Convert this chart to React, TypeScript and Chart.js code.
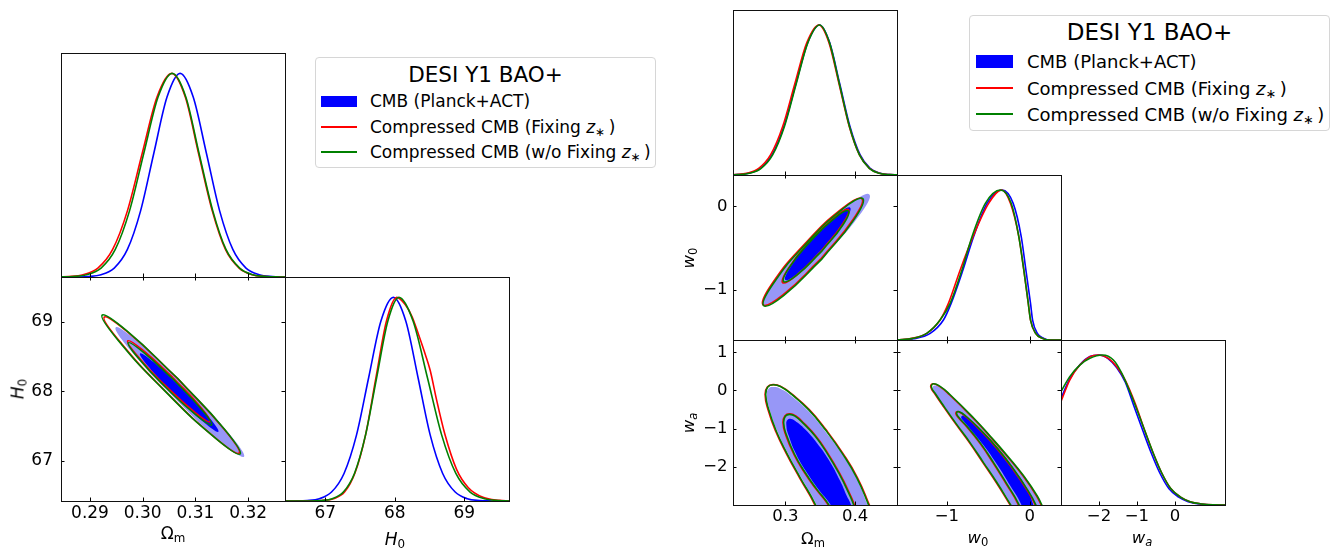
import React, { useEffect, useRef } from 'react';
import { Chart, registerables } from 'chart.js';

Chart.register(...registerables);

const FONT = 'DejaVu Sans';
const RED = '#ff0000';
const GREEN = '#008000';
const BLUE = '#0000ff';
const LIGHT = '#9797f7';

// ---------- axis ranges / ticks ----------
const omL_range = [0.2845, 0.327];
const h0_range = [66.42, 69.645];
const dens_range = [0, 1.1];
const omL_ticks = [0.29, 0.3, 0.31, 0.32];
const omL_tickLabels = ['0.29', '0.30', '0.31', '0.32'];
const h0_ticks = [67, 68, 69];
const h0_tickLabels = ['67', '68', '69'];

const omR_range = [0.225, 0.46];
const w0_range = [-1.6, 0.375];
const wa_range = [-3.0, 1.32];
const omR_ticks = [0.3, 0.4];
const omR_tickLabels = ['0.3', '0.4'];
const w0_ticks = [-1, 0];
const w0_tickLabels = ['\u22121', '0'];
const waY_ticks = [-2, -1, 0, 1];
const waY_tickLabels = ['\u22122', '\u22121', '0', '1'];
const waX_ticks = [-2, -1, 0];
const waX_tickLabels = ['\u22122', '\u22121', '0'];

// ---------- left triangle: 1D Omega_m ----------
const omL_blue_x = [0.2845, 0.2871, 0.2896, 0.2921, 0.2946, 0.2971, 0.2996, 0.3021, 0.3046, 0.3071, 0.3096, 0.3121, 0.3146, 0.3171, 0.3196, 0.3221, 0.3246, 0.327];
const omL_blue_y = [0.0001, 0.0003, 0.0022, 0.0111, 0.0439, 0.1353, 0.3247, 0.6065, 0.8825, 1.0, 0.8825, 0.6065, 0.3247, 0.1353, 0.0439, 0.0111, 0.0022, 0.0003];
const omL_red_x = [0.2845, 0.2859, 0.2887, 0.2915, 0.2943, 0.2971, 0.2999, 0.3027, 0.3055, 0.3081, 0.3106, 0.3132, 0.3157, 0.3183, 0.3208, 0.3234, 0.3259, 0.327];
const omL_red_y = [0.0009, 0.0022, 0.0111, 0.0439, 0.1353, 0.3247, 0.6065, 0.8825, 1.0, 0.8825, 0.6065, 0.3247, 0.1353, 0.0439, 0.0111, 0.0022, 0.0003, 0.0001];
const omL_green_x = [0.2845, 0.2867, 0.2894, 0.2921, 0.2948, 0.2975, 0.3002, 0.3029, 0.3056, 0.3082, 0.3107, 0.3133, 0.3158, 0.3184, 0.3209, 0.3235, 0.326, 0.327];
const omL_green_y = [0.0005, 0.0022, 0.0111, 0.0439, 0.1353, 0.3247, 0.6065, 0.8825, 1.0, 0.8825, 0.6065, 0.3247, 0.1353, 0.0439, 0.0111, 0.0022, 0.0003, 0.0001];

// ---------- left triangle: 1D H0 ----------
const h0_blue_x = [66.42, 66.56, 66.74, 66.915, 67.09, 67.27, 67.45, 67.625, 67.8, 67.98, 68.16, 68.335, 68.51, 68.69, 68.87, 69.045, 69.22, 69.4, 69.58, 69.645];
const h0_blue_y = [0.0001, 0.0003, 0.0022, 0.0111, 0.0439, 0.1353, 0.3247, 0.6065, 0.8825, 1.0, 0.8825, 0.6065, 0.3247, 0.1353, 0.0439, 0.0111, 0.0022, 0.0003, 0, 0];
const h0_red_x = [66.42, 66.83, 66.98, 67.13, 67.28, 67.43, 67.58, 67.73, 67.88, 68.03, 68.15, 68.25, 68.34, 68.42, 68.51, 68.6, 68.72, 68.89, 69.06, 69.27, 69.51, 69.645];
const h0_red_y = [0, 0.0003, 0.003, 0.012, 0.045, 0.14, 0.325, 0.6065, 0.8825, 1.0, 0.965, 0.905, 0.82, 0.74, 0.642, 0.5, 0.33, 0.155, 0.065, 0.018, 0.003, 0];
const h0_green_x = [66.42, 66.78, 66.94, 67.1, 67.26, 67.42, 67.58, 67.74, 67.9, 68.06, 68.265, 68.47, 68.675, 68.88, 69.085, 69.29, 69.495, 69.645];
const h0_green_y = [0, 0.0003, 0.0022, 0.0111, 0.0439, 0.1353, 0.3247, 0.6065, 0.8825, 1.0, 0.8825, 0.6065, 0.3247, 0.1353, 0.0439, 0.0111, 0.0022, 0.0003];

// ---------- left triangle: 2D Omega_m - H0 contours ----------
const cL_blue_outer = [[0.30814, 68.07], [0.29921, 68.704], [0.29488, 68.919], [0.29769, 68.589], [0.30598, 67.907], [0.31491, 67.273], [0.31923, 67.058], [0.31643, 67.388]];
const cL_blue_inner = [[0.3076, 68.032], [0.30214, 68.416], [0.29949, 68.545], [0.3012, 68.344], [0.30626, 67.93], [0.31172, 67.546], [0.31436, 67.417], [0.31266, 67.618]];
const cL_red_outer = [[0.30668, 68.178], [0.29728, 68.844], [0.2927, 69.068], [0.29562, 68.719], [0.30432, 68.0], [0.31372, 67.334], [0.3183, 67.11], [0.31538, 67.459]];
const cL_red_inner = [[0.30571, 68.199], [0.29997, 68.595], [0.29716, 68.726], [0.29893, 68.516], [0.30423, 68.088], [0.30997, 67.692], [0.31278, 67.561], [0.31101, 67.771]];
const cL_green_outer = [[0.30661, 68.187], [0.297, 68.868], [0.2923, 69.096], [0.29528, 68.739], [0.30419, 68.005], [0.3138, 67.325], [0.3185, 67.096], [0.31552, 67.454]];
const cL_green_inner = [[0.30593, 68.162], [0.30011, 68.564], [0.29727, 68.698], [0.29907, 68.485], [0.30445, 68.05], [0.31027, 67.648], [0.3131, 67.514], [0.31131, 67.727]];

// ---------- right triangle: 1D curves ----------
const omR_blue_x = [0.225, 0.23, 0.247, 0.264, 0.281, 0.298, 0.315, 0.332, 0.349, 0.3635, 0.378, 0.3925, 0.407, 0.4215, 0.436, 0.4505, 0.46];
const omR_red_x = [0.225, 0.2273, 0.2445, 0.2618, 0.279, 0.2963, 0.3135, 0.3308, 0.348, 0.3625, 0.377, 0.3915, 0.406, 0.4205, 0.435, 0.4495, 0.46];
const omR_green_x = [0.225, 0.2318, 0.2485, 0.2653, 0.282, 0.2988, 0.3155, 0.3323, 0.349, 0.3633, 0.3775, 0.3918, 0.406, 0.4203, 0.4345, 0.4488, 0.46];
const omR_y = [0.001, 0.0022, 0.0111, 0.0439, 0.1353, 0.3247, 0.6065, 0.8825, 1.0, 0.8825, 0.6065, 0.3247, 0.1353, 0.0439, 0.0111, 0.0022, 0.0005];

const w0_blue_x = [-1.6, -1.4, -1.2, -1.041, -0.948, -0.806, -0.678, -0.516, -0.334, -0.201, -0.104, -0.048, 0.008, 0.033, 0.09, 0.169, 0.25, 0.375];
const w0_blue_y = [0, 0.008, 0.044, 0.133, 0.244, 0.467, 0.689, 0.911, 1.0, 0.911, 0.689, 0.467, 0.244, 0.133, 0.044, 0.011, 0, 0];
const w0_red_x = [-1.6, -1.42, -1.242, -1.081, -0.981, -0.839, -0.685, -0.496, -0.34, -0.234, -0.133, -0.073, -0.019, 0.008, 0.069, 0.15, 0.25, 0.375];
const w0_green_x = [-1.6, -1.41, -1.242, -1.081, -0.96, -0.818, -0.697, -0.536, -0.355, -0.225, -0.133, -0.073, -0.019, 0.008, 0.069, 0.15, 0.25, 0.375];
const w0_rg_y = [0, 0.011, 0.044, 0.133, 0.244, 0.467, 0.689, 0.911, 1.0, 0.911, 0.689, 0.467, 0.244, 0.133, 0.044, 0.011, 0, 0];

const wa_blue_x = [-3.0, -2.77, -2.504, -2.239, -2.0, -1.753, -1.53, -1.309, -1.08, -0.85, -0.62, -0.4, -0.16, 0.1, 0.35, 0.65, 1.0, 1.32];
const wa_blue_y = [0.711, 0.84, 0.935, 0.99, 1.0, 0.975, 0.915, 0.82, 0.66, 0.5, 0.345, 0.215, 0.11, 0.052, 0.022, 0.007, 0.001, 0];
const wa_red_x = [-3.0, -2.77, -2.504, -2.239, -2.018, -1.753, -1.53, -1.309, -1.05, -0.8, -0.57, -0.35, -0.11, 0.15, 0.4, 0.7, 1.0, 1.32];
const wa_red_y = [0.69, 0.833, 0.933, 0.989, 1.0, 0.978, 0.922, 0.833, 0.68, 0.5, 0.345, 0.215, 0.11, 0.052, 0.022, 0.007, 0.001, 0];
const wa_green_x = [-3.0, -2.77, -2.504, -2.239, -1.902, -1.62, -1.397, -1.132, -0.8, -0.57, -0.35, -0.11, 0.15, 0.4, 0.7, 1.0, 1.32];
const wa_green_y = [0.756, 0.856, 0.933, 0.978, 1.0, 0.967, 0.878, 0.722, 0.5, 0.345, 0.215, 0.11, 0.052, 0.022, 0.007, 0.001, 0];

// ---------- right triangle: Omega_m - w0 contours ----------
const cOW_blue_outer = [[0.35531, -0.6032], [0.29823, -1.0456], [0.2681, -1.179], [0.28259, -0.925], [0.33319, -0.4328], [0.39027, 0.0096], [0.4204, 0.143], [0.40591, -0.111]];
const cOW_blue_inner = [[0.35382, -0.5053], [0.31882, -0.7945], [0.3, -0.881], [0.3084, -0.7141], [0.33908, -0.3917], [0.37408, -0.1025], [0.3929, -0.016], [0.3845, -0.1829]];
const cOW_red_outer = [[0.35044, -0.6328], [0.29702, -1.0559], [0.2681, -1.179], [0.28064, -0.9297], [0.32726, -0.4542], [0.38068, -0.0311], [0.4096, 0.092], [0.39706, -0.1573]];
const cOW_red_inner = [[0.35115, -0.5374], [0.3155, -0.8281], [0.2961, -0.913], [0.30432, -0.7421], [0.33535, -0.4156], [0.371, -0.1249], [0.3904, -0.04], [0.38218, -0.2109]];
const cOW_green_outer = [[0.35159, -0.6383], [0.29799, -1.0653], [0.269, -1.19], [0.28161, -0.9391], [0.32841, -0.4597], [0.38201, -0.0327], [0.411, 0.092], [0.39839, -0.1589]];
const cOW_green_inner = [[0.3519, -0.5394], [0.31679, -0.8202], [0.2976, -0.901], [0.30561, -0.7342], [0.3361, -0.4176], [0.37121, -0.1368], [0.3904, -0.056], [0.38239, -0.2228]];

// ---------- right triangle: Omega_m - wa contours ----------
const cOA_blue_outer = [[0.349, -3.287], [0.3443, -2.983], [0.3229, -2.287], [0.3038, -1.652], [0.2886, -1.07], [0.2776, -0.504], [0.2733, -0.13], [0.2757, 0.035], [0.2819, 0.087], [0.2929, 0.043], [0.3095, -0.157], [0.3333, -0.548], [0.3571, -1.07], [0.381, -1.661], [0.4014, -2.287], [0.4176, -2.983], [0.4238, -3.287]];
const cOA_blue_inner = [[0.3714, -3.287], [0.3643, -2.983], [0.3476, -2.591], [0.331, -2.157], [0.3157, -1.678], [0.3048, -1.183], [0.3014, -0.896], [0.3033, -0.765], [0.3086, -0.748], [0.3167, -0.835], [0.3286, -1.026], [0.3452, -1.374], [0.3619, -1.809], [0.3786, -2.374], [0.3881, -2.765], [0.3938, -2.983], [0.3976, -3.287]];
const cOA_red_outer = [[0.3466, -3.287], [0.3419, -2.983], [0.3204, -2.287], [0.3014, -1.652], [0.2861, -1.07], [0.2752, -0.504], [0.271, -0.113], [0.2742, 0.09], [0.2824, 0.152], [0.2935, 0.106], [0.3105, -0.113], [0.3343, -0.504], [0.3581, -1.026], [0.382, -1.635], [0.4034, -2.287], [0.42, -2.983], [0.4262, -3.287]];
const cOA_red_inner = [[0.368, -3.287], [0.3609, -2.983], [0.3442, -2.591], [0.3276, -2.157], [0.3123, -1.678], [0.3004, -1.157], [0.2967, -0.852], [0.2993, -0.668], [0.3062, -0.612], [0.315, -0.668], [0.3272, -0.87], [0.3439, -1.2], [0.3605, -1.635], [0.3786, -2.2], [0.3915, -2.678], [0.3986, -2.983], [0.4024, -3.287]];
const cOA_green_outer = [[0.3476, -3.287], [0.3429, -2.983], [0.3214, -2.287], [0.3024, -1.652], [0.2871, -1.07], [0.2762, -0.504], [0.2719, -0.113], [0.2748, 0.087], [0.2824, 0.148], [0.2929, 0.104], [0.3095, -0.113], [0.3333, -0.504], [0.3571, -1.026], [0.381, -1.635], [0.4024, -2.287], [0.419, -2.983], [0.4252, -3.287]];
const cOA_green_inner = [[0.369, -3.287], [0.3619, -2.983], [0.3452, -2.591], [0.3286, -2.157], [0.3133, -1.678], [0.3014, -1.157], [0.2976, -0.852], [0.3, -0.678], [0.3062, -0.626], [0.3143, -0.678], [0.3262, -0.87], [0.3429, -1.2], [0.3595, -1.635], [0.3776, -2.2], [0.3905, -2.678], [0.3976, -2.983], [0.4014, -3.287]];

// ---------- right triangle: w0 - wa contours ----------
const cWA_blue_outer = [[-0.161, -3.287], [-0.226, -2.983], [-0.387, -2.417], [-0.548, -1.896], [-0.71, -1.374], [-0.871, -0.896], [-1.032, -0.409], [-1.121, -0.13], [-1.169, 0.061], [-1.149, 0.13], [-1.081, 0.078], [-0.96, -0.13], [-0.677, -0.73], [-0.476, -1.209], [-0.274, -1.713], [-0.073, -2.252], [0.081, -2.765], [0.157, -3.113], [0.198, -3.287]];
const cWA_blue_inner = [[-0.073, -3.287], [-0.105, -2.983], [-0.234, -2.504], [-0.395, -1.939], [-0.556, -1.443], [-0.718, -1.009], [-0.806, -0.783], [-0.827, -0.696], [-0.798, -0.661], [-0.718, -0.783], [-0.556, -1.113], [-0.355, -1.591], [-0.173, -2.113], [-0.032, -2.591], [0.04, -2.983], [0.069, -3.287]];
const cWA_red_outer = [[-0.157, -3.287], [-0.242, -2.983], [-0.403, -2.417], [-0.564, -1.896], [-0.726, -1.374], [-0.887, -0.896], [-1.048, -0.4], [-1.137, -0.113], [-1.193, 0.087], [-1.169, 0.174], [-1.089, 0.104], [-0.968, -0.113], [-0.685, -0.722], [-0.484, -1.2], [-0.282, -1.704], [-0.081, -2.243], [0.081, -2.765], [0.161, -3.113], [0.202, -3.287]];
const cWA_red_inner = [[-0.101, -3.287], [-0.141, -2.983], [-0.282, -2.461], [-0.443, -1.896], [-0.605, -1.374], [-0.766, -0.939], [-0.867, -0.696], [-0.891, -0.591], [-0.859, -0.557], [-0.766, -0.696], [-0.605, -1.026], [-0.403, -1.504], [-0.202, -2.07], [-0.04, -2.591], [0.061, -2.983], [0.101, -3.287]];
const cWA_green_outer = [[-0.149, -3.287], [-0.234, -2.983], [-0.395, -2.417], [-0.556, -1.896], [-0.718, -1.374], [-0.879, -0.896], [-1.04, -0.4], [-1.129, -0.113], [-1.185, 0.087], [-1.161, 0.174], [-1.081, 0.104], [-0.96, -0.113], [-0.677, -0.722], [-0.476, -1.2], [-0.274, -1.704], [-0.073, -2.243], [0.089, -2.765], [0.169, -3.113], [0.21, -3.287]];
const cWA_green_inner = [[-0.093, -3.287], [-0.133, -2.983], [-0.274, -2.461], [-0.435, -1.896], [-0.597, -1.374], [-0.758, -0.939], [-0.859, -0.696], [-0.883, -0.591], [-0.851, -0.557], [-0.758, -0.696], [-0.597, -1.026], [-0.395, -1.504], [-0.194, -2.07], [-0.032, -2.591], [0.069, -2.983], [0.109, -3.287]];

// ---------- dataset helpers ----------
function curve(xs: number[], ys: number[], color: string) {
  return {
    data: xs.map((x, i) => ({ x, y: ys[i] })),
    borderColor: color, borderWidth: 1.6, pointRadius: 0, showLine: true, fill: false,
    cubicInterpolationMode: 'monotone',
  };
}
function closed(pts: number[][]) {
  const d = pts.map(([x, y]) => ({ x, y }));
  d.push({ x: pts[0][0], y: pts[0][1] });
  return d;
}
function cLine(pts: number[][], color: string) {
  return { data: closed(pts), borderColor: color, borderWidth: 1.6, pointRadius: 0, showLine: true, fill: false, tension: 0.5 };
}
function cFill(pts: number[][], color: string) {
  return { data: closed(pts), borderColor: 'rgba(0,0,0,0)', borderWidth: 0, backgroundColor: color, pointRadius: 0, showLine: true, fill: 'shape', tension: 0.5 };
}
function contourSet(bo, bi, ro, ri, go, gi) {
  return [cLine(gi, GREEN), cLine(go, GREEN), cLine(ri, RED), cLine(ro, RED), cFill(bi, BLUE), cFill(bo, LIGHT)];
}

const frameTicks = {
  id: 'frameTicks',
  afterDatasetsDraw(chart: any, _args: any, opts: any) {
    const { ctx, chartArea: a, scales } = chart;
    const s = opts.sides || {};
    const L = 3.5;
    ctx.save();
    ctx.strokeStyle = '#000';
    ctx.lineWidth = 1;
    ctx.beginPath();
    for (const t of scales.x.ticks) {
      const p = Math.round(scales.x.getPixelForValue(t.value)) + 0.5;
      if (s.bottom) { ctx.moveTo(p, a.bottom); ctx.lineTo(p, a.bottom - L); }
      if (s.top) { ctx.moveTo(p, a.top); ctx.lineTo(p, a.top + L); }
    }
    for (const t of scales.y.ticks) {
      const p = Math.round(scales.y.getPixelForValue(t.value)) + 0.5;
      if (s.left) { ctx.moveTo(a.left, p); ctx.lineTo(a.left + L, p); }
      if (s.right) { ctx.moveTo(a.right, p); ctx.lineTo(a.right - L, p); }
    }
    ctx.stroke();
    ctx.strokeStyle = '#111';
    ctx.strokeRect(a.left + 0.5, a.top + 0.5, a.width, a.height);
    ctx.restore();
  },
};

const ALL = { top: true, bottom: true, left: true, right: true };
const BOT = { bottom: true };

const PANELS: any[] = [
  { id: 'L1', left: 61, top: 53, w: 224, h: 224, ml: 6, mb: 6, font: 17,
    x: { r: omL_range, t: omL_ticks }, y: { r: dens_range, t: [0, 1] }, sides: BOT,
    sets: () => [curve(omL_green_x, omL_green_y, GREEN), curve(omL_red_x, omL_red_y, RED), curve(omL_blue_x, omL_blue_y, BLUE)] },
  { id: 'L2', left: 61, top: 277, w: 224, h: 224, ml: 61, mb: 45, font: 17, xPad: 2, yPad: 8,
    x: { r: omL_range, t: omL_ticks, l: omL_tickLabels }, y: { r: h0_range, t: h0_ticks, l: h0_tickLabels }, sides: ALL,
    sets: () => contourSet(cL_blue_outer, cL_blue_inner, cL_red_outer, cL_red_inner, cL_green_outer, cL_green_inner) },
  { id: 'L3', left: 285, top: 277, w: 224, h: 224, ml: 6, mb: 45, font: 17, xPad: 2,
    x: { r: h0_range, t: h0_ticks, l: h0_tickLabels }, y: { r: dens_range, t: [0, 1] }, sides: BOT,
    sets: () => [curve(h0_green_x, h0_green_y, GREEN), curve(h0_red_x, h0_red_y, RED), curve(h0_blue_x, h0_blue_y, BLUE)] },

  { id: 'R00', left: 733, top: 10, w: 164, h: 165, ml: 6, mb: 6, font: 16.5,
    x: { r: omR_range, t: omR_ticks }, y: { r: dens_range, t: [0, 1] }, sides: BOT,
    sets: () => [curve(omR_green_x, omR_y, GREEN), curve(omR_red_x, omR_y, RED), curve(omR_blue_x, omR_y, BLUE)] },
  { id: 'R10', left: 733, top: 175, w: 164, h: 165, ml: 60, mb: 24, font: 16.5, yPad: 5.5,
    x: { r: omR_range, t: omR_ticks }, y: { r: w0_range, t: w0_ticks, l: w0_tickLabels }, sides: ALL,
    sets: () => contourSet(cOW_blue_outer, cOW_blue_inner, cOW_red_outer, cOW_red_inner, cOW_green_outer, cOW_green_inner) },
  { id: 'R11', left: 897, top: 175, w: 164, h: 165, ml: 6, mb: 6, font: 16.5,
    x: { r: w0_range, t: w0_ticks }, y: { r: dens_range, t: [0, 1] }, sides: BOT,
    sets: () => [curve(w0_green_x, w0_rg_y, GREEN), curve(w0_red_x, w0_rg_y, RED), curve(w0_blue_x, w0_blue_y, BLUE)] },
  { id: 'R20', left: 733, top: 340, w: 164, h: 165, ml: 60, mb: 42, font: 16.5, xPad: 1.5, yPad: 5.5,
    x: { r: omR_range, t: omR_ticks, l: omR_tickLabels }, y: { r: wa_range, t: waY_ticks, l: waY_tickLabels }, sides: ALL,
    sets: () => contourSet(cOA_blue_outer, cOA_blue_inner, cOA_red_outer, cOA_red_inner, cOA_green_outer, cOA_green_inner) },
  { id: 'R21', left: 897, top: 340, w: 164, h: 165, ml: 6, mb: 42, font: 16.5, xPad: 1.5,
    x: { r: w0_range, t: w0_ticks, l: w0_tickLabels }, y: { r: wa_range, t: waY_ticks }, sides: ALL,
    sets: () => contourSet(cWA_blue_outer, cWA_blue_inner, cWA_red_outer, cWA_red_inner, cWA_green_outer, cWA_green_inner) },
  { id: 'R22', left: 1061, top: 340, w: 164, h: 165, ml: 6, mb: 42, font: 16.5, xPad: 1.5,
    x: { r: wa_range, t: waX_ticks, l: waX_tickLabels }, y: { r: dens_range, t: [0, 1] }, sides: BOT,
    sets: () => [curve(wa_green_x, wa_green_y, GREEN), curve(wa_red_x, wa_red_y, RED), curve(wa_blue_x, wa_blue_y, BLUE)] },
];

const MT = 24, MR = 6;

function axis(ax: any, horizontal: boolean, p: any) {
  const labels = ax.l;
  return {
    type: 'linear',
    position: horizontal ? 'bottom' : 'left',
    min: ax.r[0], max: ax.r[1],
    afterBuildTicks: (s: any) => { s.ticks = ax.t.map((v: number) => ({ value: v })); },
    afterFit: (s: any) => { if (horizontal) s.height = p.mb; else s.width = p.ml; },
    ticks: {
      display: !!labels,
      callback: (_v: any, i: number) => (labels ? labels[i] : ''),
      font: { family: FONT, size: p.font },
      color: '#000',
      padding: horizontal ? (p.xPad ?? 2) : (p.yPad ?? 6),
      autoSkip: false, maxRotation: 0, minRotation: 0,
    },
    grid: { display: false, drawTicks: false },
    border: { display: false },
  };
}

function Panel({ p }: any) {
  const ref = useRef<HTMLCanvasElement>(null);
  const W = p.w + p.ml + MR;
  const H = p.h + MT + p.mb;
  useEffect(() => {
    const chart = new Chart(ref.current as any, {
      type: 'scatter',
      data: { datasets: p.sets() },
      options: {
        animation: false, responsive: false, devicePixelRatio: 1, events: [],
        layout: { padding: { top: MT, right: MR, left: 0, bottom: 0 } },
        elements: { line: { capBezierPoints: false }, point: { radius: 0 } },
        plugins: { legend: { display: false }, tooltip: { enabled: false }, frameTicks: { sides: p.sides } },
        scales: { x: axis(p.x, true, p), y: axis(p.y, false, p) },
      } as any,
      plugins: [frameTicks as any],
    } as any);
    return () => chart.destroy();
  }, []);
  return (
    <canvas ref={ref} width={W} height={H}
      style={{ position: 'absolute', left: p.left - p.ml, top: p.top - MT, width: W, height: H }} />
  );
}

function Sub({ children }: any) {
  return <span style={{ fontSize: '0.7em', position: 'relative', top: '0.25em' }}>{children}</span>;
}
const Zstar = () => (<><i>z</i><Sub>{'\u2217'}</Sub>{'\u2009'}</>);

function Label({ cx, top, size, children }: any) {
  return (
    <div style={{ position: 'absolute', left: cx - 60, width: 120, top, textAlign: 'center', fontSize: size, lineHeight: 1, whiteSpace: 'nowrap' }}>{children}</div>
  );
}
function VLabel({ cx, cy, size, children }: any) {
  return (
    <div style={{ position: 'absolute', left: cx, top: cy, transform: 'translate(-50%,-50%) rotate(-90deg)', fontSize: size, lineHeight: 1, whiteSpace: 'nowrap' }}>{children}</div>
  );
}

function Legend({ box, titleTop, titleSize, size, patch, lineTops, textLeft, textTops }: any) {
  return (
    <>
      <div style={{ position: 'absolute', left: box[0], top: box[1], width: box[2], height: box[3], border: '1px solid #d6d6d6', borderRadius: 4, boxSizing: 'border-box', background: 'rgba(255,255,255,0.85)' }} />
      <div style={{ position: 'absolute', left: box[0], width: box[2], top: titleTop, textAlign: 'center', fontSize: titleSize, lineHeight: 1, whiteSpace: 'nowrap' }}>DESI Y1 BAO+</div>
      <div style={{ position: 'absolute', left: patch[0], top: patch[1], width: patch[2], height: patch[3], background: BLUE }} />
      <div style={{ position: 'absolute', left: patch[0], top: lineTops[0], width: patch[2], height: 1.5, background: RED }} />
      <div style={{ position: 'absolute', left: patch[0], top: lineTops[1], width: patch[2], height: 1.5, background: GREEN }} />
      <div style={{ position: 'absolute', left: textLeft, top: textTops[0], fontSize: size, lineHeight: 1, whiteSpace: 'nowrap' }}>CMB (Planck+ACT)</div>
      <div style={{ position: 'absolute', left: textLeft, top: textTops[1], fontSize: size, lineHeight: 1, whiteSpace: 'nowrap' }}>Compressed CMB (Fixing <Zstar />)</div>
      <div style={{ position: 'absolute', left: textLeft, top: textTops[2], fontSize: size, lineHeight: 1, whiteSpace: 'nowrap' }}>Compressed CMB (w/o Fixing <Zstar />)</div>
    </>
  );
}

export default function App() {
  return (
    <div style={{ position: 'absolute', left: 0, top: 0, width: 1337, height: 550, overflow: 'hidden', background: '#fff', fontFamily: '"DejaVu Sans", sans-serif', color: '#000' }}>
      {PANELS.map((p) => <Panel key={p.id} p={p} />)}

      <Label cx={173} top={525} size={17}>{'\u03a9'}<Sub>m</Sub></Label>
      <Label cx={395} top={531} size={17}><i>H</i><Sub>0</Sub></Label>
      <VLabel cx={18} cy={389} size={17}><i>H</i><Sub>0</Sub></VLabel>

      <Label cx={813} top={531} size={16.5}>{'\u03a9'}<Sub>m</Sub></Label>
      <Label cx={978} top={530} size={16.5}><i>w</i><Sub>0</Sub></Label>
      <Label cx={1142} top={530} size={16.5}><i>w</i><Sub><i>a</i></Sub></Label>
      <VLabel cx={689} cy={257.5} size={16.5}><i>w</i><Sub>0</Sub></VLabel>
      <VLabel cx={689} cy={422.5} size={16.5}><i>w</i><Sub><i>a</i></Sub></VLabel>

      <Legend box={[315, 57, 341, 111]} titleTop={63.5} titleSize={21.5} size={17}
        patch={[321, 96, 36, 11]} lineTops={[126, 151]} textLeft={370} textTops={[92.9, 118.9, 143.9]} />
      <Legend box={[969, 15, 361, 116]} titleTop={20.5} titleSize={23} size={18}
        patch={[976, 55, 37, 13]} lineTops={[87, 113.3]} textLeft={1027} textTops={[53.1, 79.8, 105.5]} />
    </div>
  );
}
